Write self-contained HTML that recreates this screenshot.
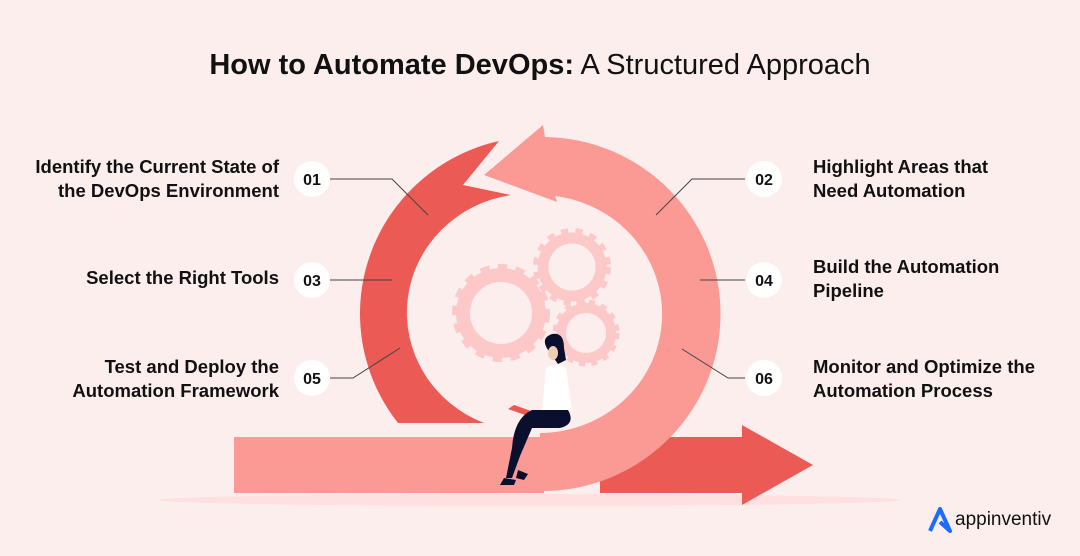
<!DOCTYPE html>
<html><head><meta charset="utf-8"><style>
html,body{margin:0;padding:0;}
body{width:1080px;height:556px;background:#fdeeee;position:relative;overflow:hidden;font-family:"Liberation Sans",sans-serif;color:#111;}
.t{position:absolute;font-size:18.5px;line-height:24px;font-weight:600;white-space:nowrap;}
.l{text-align:right;right:801px;}
.r{left:813px;}
h1{position:absolute;top:49px;left:0;width:1080px;text-align:center;margin:0;font-size:29px;font-weight:400;}
</style></head><body>
<svg width="1080" height="556" style="position:absolute;left:0;top:0">
<ellipse cx="530" cy="500" rx="370" ry="6" fill="#fde0df"/>
<rect x="600" y="437" width="145" height="56" fill="#ec5a55"/>
<polygon points="742,425 813,465 742,505" fill="#ec5a55"/>
<path d="M398,423 A178,177 0 0 1 499,141 L463,185 L511,195 A123,119 0 0 0 484,423 Z" fill="#ec5a55"/>
<path d="M545,137 A178,177 0 0 1 540,491 L540,433 A123,119 0 0 0 555,196 L557,202 L484,175 L543,125 Z" fill="#fb9a94"/>
<rect x="234" y="437" width="310" height="56" fill="#fb9a94"/>
<g fill="none" stroke="#fdc9c8">
<circle cx="501" cy="313" r="38" stroke-width="14"/>
<circle cx="501" cy="313" r="44" stroke-width="10" stroke-dasharray="9 8"/>
<circle cx="572" cy="267" r="29" stroke-width="11"/>
<circle cx="572" cy="267" r="35" stroke-width="8" stroke-dasharray="7 7"/>
<circle cx="586" cy="333" r="25" stroke-width="10"/>
<circle cx="586" cy="333" r="30" stroke-width="7" stroke-dasharray="6 6"/>
</g>
<g stroke="#444" stroke-width="1" fill="none">
<polyline points="330,179 392,179 428,215"/>
<polyline points="745,179 692,179 656,215"/>
<line x1="330" y1="280" x2="392" y2="280"/>
<line x1="700" y1="280" x2="745" y2="280"/>
<polyline points="330,378 353,378 400,348"/>
<polyline points="745,378 728,378 682,349"/>
</g>
<g fill="#fff">
<circle cx="312" cy="179" r="18"/><circle cx="312" cy="280" r="18"/><circle cx="312" cy="378" r="18"/>
<circle cx="764" cy="179" r="18"/><circle cx="764" cy="280" r="18"/><circle cx="764" cy="378" r="18"/>
</g>
<g font-family="Liberation Sans" font-weight="700" font-size="16" text-anchor="middle" fill="#111">
<text x="312" y="185">01</text><text x="312" y="286">03</text><text x="312" y="384">05</text>
<text x="764" y="185">02</text><text x="764" y="286">04</text><text x="764" y="384">06</text>
</g>
<path d="M548,350 q-8,-12 4,-16 q12,-2 12,14 l2,12 -8,4 z" fill="#0b0f2e"/>
<ellipse cx="553" cy="353" rx="5" ry="7" fill="#f1cdb4"/>
<path d="M546,368 q10,-6 20,0 l6,42 -30,0 z" fill="#fff"/>
<path d="M514,405 l20,7 -6,4 -20,-7z" fill="#ec5a55"/>
<path d="M532,410 l36,0 q8,14 -8,18 l-28,0 -12,28 -8,22 -6,0 6,-30 q2,-30 20,-38z" fill="#0b0f2e"/>
<path d="M504,478 l12,2 -2,5 -14,0 z M518,470 l10,4 -4,6 -8,-2z" fill="#0b0f2e"/>
</svg>
<h1><b>How to Automate DevOps:</b> A Structured Approach</h1>
<div class="t l" style="top:155px">Identify the Current State of<br>the DevOps Environment</div>
<div class="t l" style="top:266px">Select the Right Tools</div>
<div class="t l" style="top:355px">Test and Deploy the<br>Automation Framework</div>
<div class="t r" style="top:155px">Highlight Areas that<br>Need Automation</div>
<div class="t r" style="top:255px">Build the Automation<br>Pipeline</div>
<div class="t r" style="top:355px">Monitor and Optimize the<br>Automation Process</div>
<svg width="24" height="26" style="position:absolute;left:928px;top:507px"><path d="M2,24 L12,2 L22,24 L12,15" fill="none" stroke="#1a6dff" stroke-width="4" stroke-linejoin="round"/></svg>
<div style="position:absolute;left:955px;top:509px;font-size:19px;color:#111">appinventiv</div>
</body></html>
